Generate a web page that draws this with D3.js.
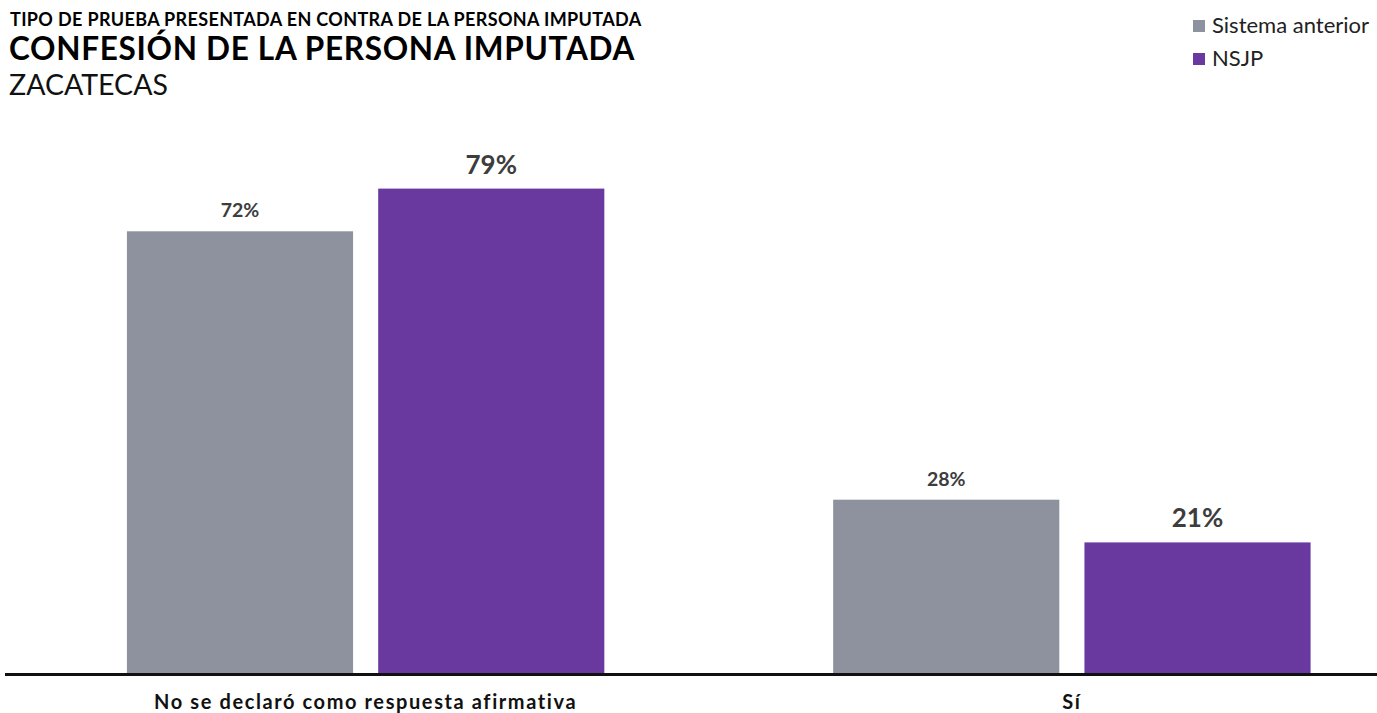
<!DOCTYPE html>
<html><head><meta charset="utf-8">
<script src="https://cdn.jsdelivr.net/npm/d3@7"></script>
<style>body{margin:0;background:#fff;font-family:Lato,sans-serif;}</style>
</head><body><svg id="c" width="1377" height="713"></svg>
<script>
const categories = ["No se declaró como respuesta afirmativa", "Sí"];
const seriesNames = ["Sistema anterior", "NSJP"];
const sistemaAnterior = [72, 28];
const nsjp = [79, 21];
const colors = ["#8e929e", "#6a39a0"];

const svg = d3.select("#c");
const zeroY = 670.5;
const axisY = 674.5;
const y = d3.scaleLinear().domain([0, 100]).range([zeroY, zeroY - 610]);
const x0 = d3.scaleBand().domain(categories).range([12.5, 1425]).paddingInner(0.324).paddingOuter(0.162);
const x1 = d3.scaleBand().domain(seriesNames).range([0, x0.bandwidth()]).paddingInner(0.1);

const data = categories.map((c, i) => ({cat: c, vals: [sistemaAnterior[i], nsjp[i]]}));

const g = svg.append("g");
data.forEach(d => {
  d.vals.forEach((v, j) => {
    const xx = x0(d.cat) + x1(seriesNames[j]);
    g.append("rect").attr("x", xx).attr("y", y(v)).attr("width", x1.bandwidth()).attr("height", axisY - y(v)).attr("fill", colors[j]);
    g.append("text").attr("x", xx + x1.bandwidth() / 2).attr("y", y(v) - (j === 0 ? 14 : 15))
      .attr("text-anchor", "middle").attr("fill", "#3d3d3d")
      .attr("font-weight", "bold").attr("font-size", j === 0 ? 19.5 : 26).text(v + "%");
  });
});

// baseline axis
svg.append("line").attr("x1", 5).attr("x2", 1377).attr("y1", axisY).attr("y2", axisY).attr("stroke", "#111").attr("stroke-width", 3);

const xAxis = svg.append("g").attr("transform", `translate(0,${axisY})`).call(d3.axisBottom(x0).tickSize(0).tickPadding(0));
xAxis.select(".domain").remove();
xAxis.selectAll("text").attr("font-family", "Lato, sans-serif").attr("font-size", 20).attr("font-weight", "bold")
  .attr("fill", "#111").attr("letter-spacing", 1.6).attr("dy", null).attr("y", 34);

// titles
svg.append("text").attr("x", 10).attr("y", 26).attr("font-weight", "bold").attr("font-size", 18).attr("letter-spacing", 0.35).attr("fill", "#000").text("TIPO DE PRUEBA PRESENTADA EN CONTRA DE LA PERSONA IMPUTADA");
svg.append("text").attr("x", 9).attr("y", 60).attr("font-weight", "bold").attr("font-size", 31.5).attr("letter-spacing", 0.7).attr("fill", "#000").text("CONFESIÓN DE LA PERSONA IMPUTADA");
svg.append("text").attr("x", 9).attr("y", 95).attr("font-size", 28.5).attr("fill", "#111").text("ZACATECAS");

// legend
const leg = svg.append("g").attr("transform", "translate(1193,20)");
seriesNames.forEach((s, i) => {
  leg.append("rect").attr("x", 0).attr("y", i * 33).attr("width", 12).attr("height", 12).attr("fill", colors[i]);
  leg.append("text").attr("x", 19).attr("y", i * 33 + 13).attr("font-size", 22).attr("fill", "#222").text(s);
});
</script></body></html>
